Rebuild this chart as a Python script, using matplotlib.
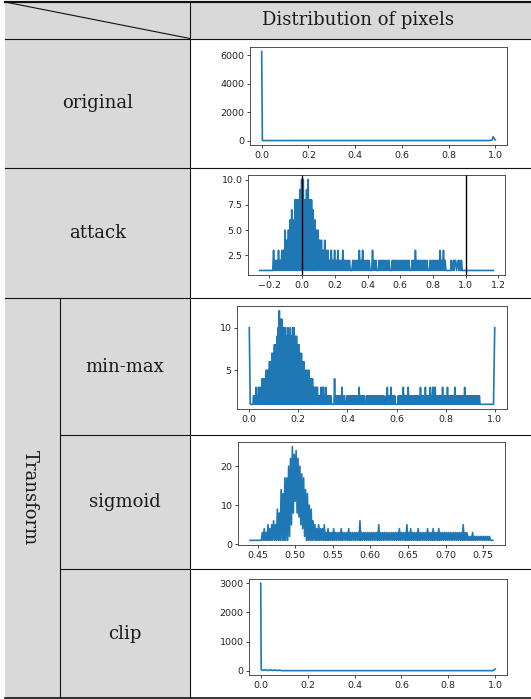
import numpy as np
import matplotlib.pyplot as plt

plt.rcParams["path.simplify"] = False

W, H = 531, 699

# ---- data ----
row_labels = ["original", "attack", "min-max", "sigmoid", "clip"]
header = "Distribution of pixels"
group_label = "Transform"

# original: counts per pixel value
orig_x = [0.0, 0.003, 0.01, 0.5, 0.975, 0.985, 0.991, 0.996, 1.0]
orig_y = [6250, 15, 5, 5, 5, 30, 270, 120, 60]

# attack: dense part from -0.18 to 0.88
atk_head_x = [-0.26]
atk_head_y = [1]
atk_dense = [
    1, 3, 1, 2, 1, 2, 1, 3, 1, 2,
    1, 3, 1, 3, 1, 5, 1, 4, 1, 5,
    1, 6, 1, 7, 1, 6, 1, 8, 1, 8,
    1, 8, 1, 9, 1, 10, 1, 10, 1, 8,
    1, 9, 1, 10, 1, 8, 1, 8, 1, 7,
    1, 6, 1, 5, 1, 5, 1, 4, 1, 4,
    1, 3, 1, 4, 1, 3, 1, 3, 1, 2,
    1, 3, 1, 2, 1, 3, 1, 2, 1, 3,
    1, 2, 1, 2, 1, 3, 1, 2, 1, 2,
    1, 2, 1, 2, 1, 1, 1, 2, 1, 2,
    1, 2, 1, 2, 1, 3, 1, 2, 1, 3,
    1, 2, 1, 2, 1, 2, 1, 2, 1, 1,
    1, 3, 1, 2, 1, 2, 1, 1, 1, 2,
    1, 2, 1, 2, 1, 2, 1, 2, 1, 2,
    1, 2, 1, 1, 1, 2, 1, 2, 1, 2,
    1, 2, 1, 2, 1, 2, 1, 2, 1, 2,
    1, 2, 1, 2, 1, 2, 1, 1, 1, 2,
    1, 2, 1, 3, 1, 2, 1, 2, 1, 2,
    1, 2, 1, 2, 1, 2, 1, 2, 1, 1,
    1, 2, 1, 2, 1, 2, 1, 2, 1, 2,
    1, 2, 1, 3, 1, 2, 1, 3, 1, 2,
    1]
atk_tail_x = [0.91, 0.912, 0.918, 0.925, 0.93, 0.935, 0.94, 0.945,
              0.955, 0.96, 0.965, 0.97, 0.975, 0.98, 1.17]
atk_tail_y = [1, 2, 1, 2, 1, 2, 2, 1, 2, 1, 2, 1, 2, 1, 1]

# min-max: dense part from 0.015 to 0.94
mm_head_x = [0.0, 0.004]
mm_head_y = [10, 1]
mm_dense = [
    1, 2, 1, 2, 1, 3, 1, 2, 1, 3, 1, 3, 1, 3, 1, 4, 1, 4, 1, 4,
    1, 5, 1, 5, 1, 5, 1, 6, 1, 6, 1, 7, 1, 7, 1, 8, 1, 8, 1, 9,
    1, 10, 1, 12, 1, 11, 1, 11, 1, 10, 1, 10, 1, 10, 1, 9, 1, 10, 1, 9,
    1, 10, 1, 9, 1, 10, 1, 10, 1, 9, 1, 9, 1, 8, 1, 8, 1, 7, 1, 7,
    1, 6, 1, 6, 1, 5, 1, 5, 1, 5, 1, 5, 1, 4, 1, 4, 1, 4, 1, 3,
    1, 3, 1, 3, 1, 3, 1, 2, 1, 2, 1, 3, 1, 3, 1, 3, 1, 2, 1, 3,
    1, 2, 1, 2, 1, 2, 1, 2, 1, 1, 1, 1, 1, 4, 1, 2, 1, 2, 1, 2,
    1, 2, 1, 2, 1, 3, 1, 2, 1, 2, 1, 1, 1, 2, 1, 2, 1, 2, 1, 2,
    1, 2, 1, 2, 1, 2, 1, 2, 1, 2, 1, 2, 1, 3, 1, 2, 1, 2, 1, 2,
    1, 2, 1, 1, 1, 2, 1, 2, 1, 2, 1, 2, 1, 2, 1, 2, 1, 2, 1, 2,
    1, 2, 1, 2, 1, 2, 1, 2, 1, 2, 1, 2, 1, 2, 1, 1, 1, 2, 1, 3,
    1, 2, 1, 2, 1, 3, 1, 2, 1, 2, 1, 2, 1, 1, 1, 1, 1, 2, 1, 2,
    1, 2, 1, 2, 1, 3, 1, 2, 1, 2, 1, 2, 1, 3, 1, 2, 1, 2, 1, 2,
    1, 2, 1, 2, 1, 2, 1, 2, 1, 2, 1, 2, 1, 3, 1, 2, 1, 2, 1, 2,
    1, 3, 1, 2, 1, 2, 1, 2, 1, 3, 1, 2, 1, 3, 1, 3, 1, 3, 1, 2,
    1, 2, 1, 2, 1, 2, 1, 2, 1, 3, 1, 2, 1, 2, 1, 2, 1, 3, 1, 2,
    1, 2, 1, 2, 1, 2, 1, 2, 1, 3, 1, 2, 1, 2, 1, 2, 1, 2, 1, 2,
    1, 2, 1, 2, 1, 3, 1, 2, 1, 2, 1, 2, 1, 2, 1, 2, 1, 2, 1, 2,
    1, 2, 1, 2, 1, 2, 1, 2, 1, 2, 1]
mm_tail_x = [0.995, 1.0]
mm_tail_y = [1, 10]

# sigmoid: dense part from 0.455 to 0.761
sig_head_x = [0.44]
sig_head_y = [1]
sig_dense = [
    1, 3, 1, 4, 1, 3, 1, 5, 1, 4, 1, 5, 1, 6, 1, 5, 1, 9, 1, 8,
    1, 14, 1, 13, 1, 17, 1, 17, 1, 20, 2, 22, 5, 25, 8, 23, 11, 24, 8, 22,
    7, 20, 5, 18, 4, 17, 2, 14, 1, 13, 1, 10, 1, 9, 1, 6, 1, 5, 1, 4,
    1, 5, 1, 4, 1, 4, 1, 5, 1, 3, 1, 4, 1, 3, 1, 3, 1, 4, 1, 3,
    1, 3, 1, 3, 1, 4, 1, 3, 1, 3, 1, 3, 1, 4, 1, 3, 1, 3, 1, 3,
    1, 3, 1, 3, 1, 6, 1, 3, 1, 3, 1, 3, 1, 3, 1, 3, 1, 3, 1, 3,
    1, 3, 1, 3, 1, 5, 1, 3, 1, 3, 1, 3, 1, 3, 1, 3, 1, 3, 1, 3,
    1, 3, 1, 3, 1, 3, 1, 4, 1, 3, 1, 3, 1, 3, 1, 5, 1, 3, 1, 4,
    1, 3, 1, 3, 1, 3, 1, 4, 1, 3, 1, 3, 1, 3, 1, 3, 1, 4, 1, 3,
    1, 3, 1, 4, 1, 3, 1, 3, 1, 4, 1, 3, 1, 3, 1, 3, 1, 3, 1, 3,
    1, 3, 1, 3, 1, 3, 1, 3, 1, 3, 1, 3, 1, 3, 1, 5, 1, 3, 1, 3,
    1, 2, 1, 2, 1, 3, 1, 2, 1, 2, 1, 2, 1, 2, 1, 2, 1, 2, 1, 2,
    1, 2, 1, 2, 1, 1]
sig_tail_x = [0.763]
sig_tail_y = [1]

# clip
clip_x = [0.0, 0.002, 0.01, 0.02, 0.03, 0.04, 0.05, 0.06, 0.07, 0.08,
          0.09, 0.5, 0.99, 1.0]
clip_y = [2990, 40, 15, 35, 10, 30, 12, 28, 10, 20, 5, 5, 5, 60]


def series(head_x, head_y, dense, x0, x1, tail_x, tail_y):
    xs = list(head_x) + list(np.linspace(x0, x1, len(dense))) + list(tail_x)
    ys = list(head_y) + list(dense) + list(tail_y)
    return xs, ys


atk_x, atk_y = series(atk_head_x, atk_head_y, atk_dense, -0.18, 0.88,
                      atk_tail_x, atk_tail_y)
mm_x, mm_y = series(mm_head_x, mm_head_y, mm_dense, 0.015, 0.94,
                    mm_tail_x, mm_tail_y)
sig_x, sig_y = series(sig_head_x, sig_head_y, sig_dense, 0.455, 0.761,
                      sig_tail_x, sig_tail_y)

fig = plt.figure(figsize=(W / 100, H / 100), dpi=100)

# ---- table background ----
bg = fig.add_axes([0, 0, 1, 1])
bg.set_xlim(0, W)
bg.set_ylim(H, 0)
bg.axis("off")

gray = "#d9d9d9"
bg.add_patch(plt.Rectangle((5, 2), W - 5, 36.5, color=gray, lw=0))
bg.add_patch(plt.Rectangle((5, 38.5), 185, 660, color=gray, lw=0))

lc = "#111111"
bg.plot([5, W], [1.5, 1.5], color=lc, lw=1.6)
bg.plot([5, W], [38.5, 38.5], color=lc, lw=0.8)
bg.plot([5, W], [168, 168], color=lc, lw=0.8)
bg.plot([5, W], [298, 298], color=lc, lw=0.8)
bg.plot([60, W], [435, 435], color=lc, lw=0.8)
bg.plot([60, W], [568.5, 568.5], color=lc, lw=0.8)
bg.plot([5, W], [698, 698], color=lc, lw=1.2)
bg.plot([190, 190], [2, 698], color=lc, lw=0.8)
bg.plot([60, 60], [298, 698], color=lc, lw=0.8)
bg.plot([5, 190], [2, 38.5], color=lc, lw=0.8)

tfont = dict(family="DejaVu Serif", size=13, color="#1a1a1a",
             ha="center", va="center")
bg.text(358, 20, header, **tfont)
bg.text(97.5, 103, row_labels[0], **tfont)
bg.text(97.5, 233, row_labels[1], **tfont)
bg.text(125, 367, row_labels[2], **tfont)
bg.text(125, 502, row_labels[3], **tfont)
bg.text(125, 634, row_labels[4], **tfont)
bg.text(30, 498, group_label, rotation=-90, **tfont)


# ---- the small plots ----
def px_axes(left, top, right, bottom):
    return fig.add_axes([left / W, 1 - bottom / H, (right - left) / W,
                         (bottom - top) / H])


def style(ax):
    ax.tick_params(labelsize=6.8, length=2.5, width=0.6, pad=1.5,
                   colors="#222222")
    for s in ax.spines.values():
        s.set_linewidth(0.6)
        s.set_color("#333333")


blue = "#1f77b4"
lw = 1.2

ax1 = px_axes(250, 47, 507, 145)
ax1.plot(orig_x, orig_y, color=blue, lw=lw)
ax1.set_xticks(np.arange(0, 1.01, 0.2))
ax1.set_yticks([0, 2000, 4000, 6000])
style(ax1)

ax2 = px_axes(248, 175, 505, 275)
ax2.plot(atk_x, atk_y, color=blue, lw=lw)
ax2.axvline(0, color="black", lw=1.0)
ax2.axvline(1, color="black", lw=1.0)
ax2.set_xticks(np.arange(-0.2, 1.21, 0.2))
ax2.set_yticks([2.5, 5.0, 7.5, 10.0])
style(ax2)

ax3 = px_axes(237, 306, 507, 409)
ax3.plot(mm_x, mm_y, color=blue, lw=lw)
ax3.set_xticks(np.arange(0, 1.01, 0.2))
ax3.set_yticks([5, 10])
style(ax3)

ax4 = px_axes(238, 442, 505, 545)
ax4.plot(sig_x, sig_y, color=blue, lw=lw)
ax4.set_xticks(np.arange(0.45, 0.76, 0.05))
ax4.set_yticks([0, 10, 20])
style(ax4)

ax5 = px_axes(249, 579, 507, 675)
ax5.plot(clip_x, clip_y, color=blue, lw=lw)
ax5.set_xticks(np.arange(0, 1.01, 0.2))
ax5.set_yticks([0, 1000, 2000, 3000])
style(ax5)

fig.savefig("out.png", dpi=100)
